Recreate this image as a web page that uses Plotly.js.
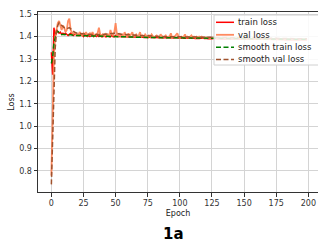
<!DOCTYPE html>
<html>
<head>
<meta charset="utf-8">
<script src="https://cdn.plot.ly/plotly-3.0.1.min.js"></script>
<style>html,body{margin:0;padding:0;background:#fff;}#chart{width:318px;height:242px;}</style>
</head>
<body>
<div id="chart"></div>
<script>
// ---- data ----
const epochs = [];
for (let i = 0; i < 200; i++) epochs.push(i);

const trainLoss = [
1.33,1.23,1.44,1.40,1.43,1.42,1.415,1.42,1.41,1.415,
1.41,1.415,1.41,1.405,1.41,1.415,1.41,1.405,1.41,1.41,
1.405,1.41,1.405,1.41,1.405,1.40,1.41,1.405,1.40,1.405,
1.40,1.405,1.41,1.40,1.405,1.40,1.405,1.40,1.405,1.40,
1.40,1.405,1.40,1.40,1.405,1.40,1.40,1.405,1.40,1.40,
1.405,1.40,1.40,1.398,1.40,1.40,1.398,1.40,1.40,1.398,
1.40,1.398,1.40,1.397,1.40,1.398,1.397,1.40,1.398,1.397,
1.398,1.397,1.396,1.398,1.397,1.396,1.398,1.396,1.397,1.395,
1.397,1.396,1.395,1.397,1.396,1.395,1.396,1.395,1.397,1.395,
1.396,1.395,1.394,1.396,1.395,1.394,1.396,1.394,1.395,1.394,
1.395,1.394,1.393,1.395,1.394,1.393,1.394,1.393,1.395,1.393,
1.394,1.393,1.392,1.394,1.393,1.392,1.393,1.392,1.394,1.392,
1.393,1.392,1.391,1.393,1.392,1.391,1.392,1.391,1.393,1.391,
1.392,1.391,1.390,1.392,1.391,1.390,1.391,1.390,1.392,1.390,
1.391,1.390,1.390,1.391,1.390,1.389,1.390,1.389,1.391,1.389,
1.390,1.389,1.389,1.390,1.389,1.388,1.389,1.388,1.390,1.388,
1.389,1.388,1.388,1.389,1.388,1.388,1.388,1.387,1.389,1.387,
1.388,1.387,1.387,1.388,1.387,1.387,1.387,1.387,1.388,1.387,
1.387,1.387,1.386,1.387,1.386,1.386,1.387,1.386,1.387,1.386,
1.387,1.386,1.386,1.387,1.386,1.386,1.387,1.386,1.386,1.386
];

const valLoss = [
0.78,1.06,1.31,1.40,1.44,1.46,1.47,1.45,1.43,1.45,
1.44,1.42,1.43,1.47,1.48,1.43,1.42,1.41,1.42,1.41,
1.41,1.405,1.42,1.41,1.405,1.415,1.41,1.42,1.405,1.41,
1.415,1.405,1.42,1.41,1.40,1.41,1.415,1.44,1.41,1.405,
1.41,1.40,1.415,1.405,1.41,1.40,1.43,1.41,1.405,1.42,
1.46,1.41,1.40,1.415,1.405,1.41,1.40,1.42,1.405,1.40,
1.415,1.40,1.41,1.42,1.40,1.405,1.41,1.40,1.405,1.42,
1.40,1.405,1.40,1.41,1.40,1.395,1.405,1.40,1.41,1.40,
1.395,1.40,1.405,1.40,1.395,1.41,1.40,1.395,1.40,1.405,
1.395,1.40,1.40,1.415,1.395,1.40,1.40,1.41,1.415,1.40,
1.395,1.40,1.395,1.40,1.41,1.395,1.40,1.395,1.40,1.405,
1.395,1.40,1.395,1.40,1.395,1.40,1.395,1.40,1.395,1.395,
1.393,1.396,1.392,1.395,1.393,1.392,1.396,1.393,1.392,1.395,
1.392,1.394,1.392,1.393,1.391,1.394,1.392,1.391,1.393,1.392,
1.391,1.393,1.391,1.392,1.390,1.393,1.391,1.390,1.392,1.391,
1.390,1.392,1.390,1.391,1.390,1.392,1.389,1.391,1.390,1.389,
1.391,1.389,1.390,1.389,1.391,1.389,1.390,1.388,1.390,1.389,
1.388,1.390,1.389,1.388,1.390,1.388,1.389,1.388,1.390,1.388,
1.389,1.388,1.388,1.389,1.388,1.389,1.387,1.388,1.389,1.387,
1.388,1.387,1.388,1.387,1.388,1.387,1.388,1.387,1.388,1.387
];

const smoothTrainEpochs = [0,1,2,3,4,5,6,7,8,10,12,15,20,25,30,40,50,60,70,80,90,100,120,140,160,180,199];
const smoothTrainLoss  = [1.28,1.31,1.37,1.40,1.42,1.423,1.418,1.412,1.41,1.41,1.41,1.408,1.405,1.404,1.402,1.401,1.40,1.399,1.397,1.396,1.395,1.394,1.393,1.391,1.39,1.389,1.388];

const smoothValEpochs = [0,1,2,3,4,5,6,7,8,9,10,12,14,16,18,20,25,30,40,50,55,60,70,80,90,100,120,140,160,180,199];
const smoothValLoss  = [0.74,0.97,1.20,1.35,1.42,1.45,1.462,1.458,1.45,1.445,1.44,1.435,1.44,1.43,1.42,1.415,1.412,1.41,1.41,1.415,1.41,1.408,1.405,1.402,1.40,1.399,1.395,1.393,1.392,1.391,1.39];

const xTicks = [0,25,50,75,100,125,150,175,200];
const yTicks = [0.8,0.9,1.0,1.1,1.2,1.3,1.4,1.5];
const yTickText = ['0.8','0.9','1.0','1.1','1.2','1.3','1.4','1.5'];

const seriesNames = ['train loss','val loss','smooth train loss','smooth val loss'];
const chartLabel = '1a';

// ---- styling / layout ----
const FONT = 'DejaVu Sans, sans-serif';
const styles = [
  {color:'#ff0000', width:1.5, dash:'solid'},
  {color:'#ff7f50', width:1.8, dash:'solid', opacity:0.9},
  {color:'#008000', width:1.5, dash:'5px,2.5px'},
  {color:'#a0522d', width:1.5, dash:'5px,2.5px'}
];
const xs = [epochs, epochs, smoothTrainEpochs, smoothValEpochs];
const ys = [trainLoss, valLoss, smoothTrainLoss, smoothValLoss];

const traces = seriesNames.map((n,i)=>({
  x: xs[i], y: ys[i], name: n, type:'scatter', mode:'lines',
  line:{color:styles[i].color, width:styles[i].width, dash:styles[i].dash},
  opacity: styles[i].opacity || 1,
  showlegend:false, hoverinfo:'skip'
}));

const W=318,H=242, L=38, R=0, T=12, B=50;
const pw=W-L-R, ph=H-T-B;
const px = v => (v-L)/pw;
const py = v => (H-B-v)/ph;

const shapes = [{
  type:'rect', xref:'paper', yref:'paper',
  x0:px(214), x1:px(322), y0:py(65), y1:py(15),
  fillcolor:'rgba(255,255,255,0.85)', line:{color:'#d0d0d0', width:1}, layer:'above'
}];
const annotations = [];
const rowY = [22.3, 34.8, 47.2, 59.5];
seriesNames.forEach((n,i)=>{
  shapes.push({type:'line', xref:'paper', yref:'paper', x0:px(216), x1:px(234), y0:py(rowY[i]), y1:py(rowY[i]),
    line:{color:styles[i].color, width:styles[i].width, dash:styles[i].dash}, layer:'above', opacity: styles[i].opacity||1});
  annotations.push({xref:'paper', yref:'paper', x:px(236), y:py(rowY[i]), text:n, showarrow:false,
    xanchor:'left', yanchor:'middle', font:{family:FONT, size:8.5, color:'#222'}});
});
annotations.push({xref:'paper', yref:'paper', x:px(173), y:py(233.5), text:'<b>'+chartLabel+'</b>', showarrow:false,
  xanchor:'center', yanchor:'middle', font:{family:FONT, size:15, color:'#000'}});

const layout = {
  width:W, height:H,
  margin:{l:L, r:R, t:T, b:B, pad:0},
  paper_bgcolor:'#fff', plot_bgcolor:'#fff',
  font:{family:FONT, size:8, color:'#333'},
  showlegend:false,
  xaxis:{
    range:[-10.4, 207.5], tickvals:xTicks, ticktext:xTicks.map(String),
    showgrid:true, gridcolor:'#d4d4d4', gridwidth:1, zeroline:false,
    showline:true, linecolor:'#333', linewidth:1, mirror:true,
    ticks:'outside', ticklen:3.5, tickcolor:'#333', tickwidth:1,
    tickfont:{family:FONT, size:8, color:'#333'},
    title:{text:'Epoch', font:{family:FONT, size:8, color:'#222'}, standoff:3}
  },
  yaxis:{
    range:[0.706, 1.51], tickvals:yTicks, ticktext:yTickText,
    showgrid:true, gridcolor:'#d4d4d4', gridwidth:1, zeroline:false,
    showline:true, linecolor:'#333', linewidth:1,
    ticks:'outside', ticklen:3.5, tickcolor:'#333', tickwidth:1,
    tickfont:{family:FONT, size:8, color:'#333'},
    title:{text:'Loss', font:{family:FONT, size:8, color:'#222'}, standoff:3}
  },
  shapes:shapes, annotations:annotations
};

Plotly.newPlot('chart', traces, layout, {staticPlot:true, displayModeBar:false});
</script>
</body>
</html>
